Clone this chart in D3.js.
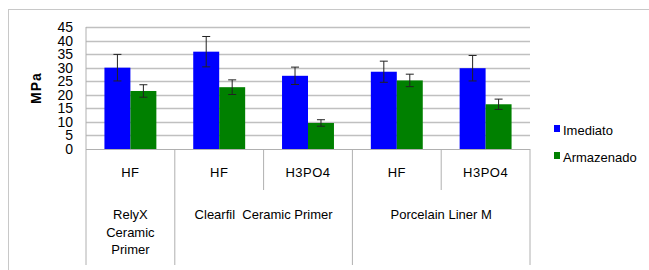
<!DOCTYPE html>
<html>
<head>
<meta charset="utf-8">
<script src="https://cdn.jsdelivr.net/npm/d3@7"></script>
<style>
  body { margin: 0; background: #fff; }
  text { font-family: "Liberation Sans", Arial, sans-serif; fill: #000; }
</style>
</head>
<body>
<svg width="649" height="270"></svg>
<script>
// data
var subLabels = ["HF", "HF", "H3PO4", "HF", "H3PO4"];
var groups = [
  { name: ["RelyX", "Ceramic", "Primer"], from: 0, to: 1 },
  { name: ["Clearfil  Ceramic Primer"], from: 1, to: 3 },
  { name: ["Porcelain Liner M"], from: 3, to: 5 }
];
var seriesNames = ["Imediato", "Armazenado"];
var colors = ["#0000ff", "#008000"];
var imediato = [30.0, 35.9, 27.0, 28.5, 29.8];
var imediatoErr = [4.9, 5.6, 3.2, 3.9, 4.7];
var armazenado = [21.4, 22.8, 9.6, 25.3, 16.5];
var armazenadoErr = [2.3, 2.7, 1.2, 2.3, 1.9];
var yTicks = [0, 5, 10, 15, 20, 25, 30, 35, 40, 45];

var svg = d3.select("svg");

// outer frame (only top and left edges visible)
svg.append("rect")
  .attr("x", 8.5).attr("y", 9.5)
  .attr("width", 700).attr("height", 300)
  .attr("fill", "none").attr("stroke", "#c8c8c8").attr("stroke-width", 1);

var pLeft = 86, pRight = 530, pTop = 27, pBottom = 149;

var y = d3.scaleLinear().domain([0, 45]).range([pBottom, pTop]);
var x = d3.scaleBand().domain(d3.range(subLabels.length)).range([pLeft, pRight]);
var xs = d3.scaleBand().domain([0, 1]).range([0, x.bandwidth()]).paddingOuter(0.71);

// gridlines
svg.selectAll("line.grid").data(yTicks.slice(1))
  .enter().append("line")
  .attr("class", "grid")
  .attr("x1", pLeft).attr("x2", pRight)
  .attr("y1", function(d){ return Math.round(y(d)) + 0.5 })
  .attr("y2", function(d){ return Math.round(y(d)) + 0.5 })
  .attr("stroke", "#c0c0c0").attr("stroke-width", 1.5);

// y tick labels (tight, like the original)
svg.selectAll("text.ytick").data(yTicks)
  .enter().append("text")
  .attr("class", "ytick")
  .attr("x", 73)
  .attr("y", function(d){ return y(d) + 5 })
  .attr("text-anchor", "end")
  .style("font-size", "14px")
  .text(function(d){ return d });

svg.append("text")
  .attr("transform", "translate(41," + ((pTop + pBottom) / 2) + ") rotate(-90)")
  .attr("text-anchor", "middle")
  .style("font-size", "14px").style("font-weight", "bold")
  .style("letter-spacing", "1px")
  .text("MPa");

// bars
var series = [
  { vals: imediato, err: imediatoErr },
  { vals: armazenado, err: armazenadoErr }
];
series.forEach(function(s, si){
  svg.selectAll("rect.s" + si).data(s.vals)
    .enter().append("rect")
    .attr("class", "s" + si)
    .attr("x", function(d, i){ return x(i) + xs(si) })
    .attr("width", xs.bandwidth())
    .attr("y", function(d){ return y(d) })
    .attr("height", function(d){ return pBottom - y(d) })
    .attr("fill", colors[si]);

  var eb = svg.selectAll("g.eb" + si).data(s.vals)
    .enter().append("g")
    .attr("stroke", "#222").attr("stroke-width", 1);
  eb.append("line")
    .attr("x1", function(d, i){ return x(i) + xs(si) + xs.bandwidth() / 2 })
    .attr("x2", function(d, i){ return x(i) + xs(si) + xs.bandwidth() / 2 })
    .attr("y1", function(d, i){ return y(d + s.err[i]) })
    .attr("y2", function(d, i){ return y(d - s.err[i]) });
  [1, -1].forEach(function(sign){
    eb.append("line")
      .attr("x1", function(d, i){ return x(i) + xs(si) + xs.bandwidth() / 2 - 4 })
      .attr("x2", function(d, i){ return x(i) + xs(si) + xs.bandwidth() / 2 + 4 })
      .attr("y1", function(d, i){ return y(d + sign * s.err[i]) })
      .attr("y2", function(d, i){ return y(d + sign * s.err[i]) });
  });
});

// axes lines
svg.append("line")
  .attr("x1", pLeft).attr("x2", pRight).attr("y1", pBottom + 0.5).attr("y2", pBottom + 0.5)
  .attr("stroke", "#b0b0b0").attr("stroke-width", 1);
svg.append("line")
  .attr("x1", pLeft).attr("x2", pLeft).attr("y1", pTop).attr("y2", 265)
  .attr("stroke", "#b0b0b0").attr("stroke-width", 1);

// category separators: full height at group edges, short between sub categories
var groupEdges = groups.map(function(g){ return g.to });
d3.range(1, subLabels.length + 1).forEach(function(i){
  var xx = i < subLabels.length ? x(i) : pRight;
  var full = groupEdges.indexOf(i) >= 0;
  svg.append("line")
    .attr("x1", xx).attr("x2", xx)
    .attr("y1", pBottom).attr("y2", full ? 265 : 190)
    .attr("stroke", "#b0b0b0").attr("stroke-width", 1);
});

// sub category labels
svg.selectAll("text.sub").data(subLabels)
  .enter().append("text")
  .attr("class", "sub")
  .attr("x", function(d, i){ return x(i) + x.bandwidth() / 2 })
  .attr("y", 177)
  .attr("text-anchor", "middle")
  .style("font-size", "13px").style("letter-spacing", "0.5px")
  .text(function(d){ return d });

// group labels
groups.forEach(function(g){
  var cx = (x(g.from) + (g.to < subLabels.length ? x(g.to) : pRight)) / 2;
  var t = svg.append("text")
    .attr("x", cx).attr("y", 219)
    .attr("text-anchor", "middle")
    .style("font-size", "13px").style("white-space", "pre");
  g.name.forEach(function(line, li){
    t.append("tspan").attr("x", cx).attr("dy", li === 0 ? 0 : 17.5).text(line);
  });
});

// legend
seriesNames.forEach(function(n, i){
  var ly = 131 + i * 27;
  svg.append("rect")
    .attr("x", 554).attr("y", ly - 6).attr("width", 6).attr("height", 7)
    .attr("fill", colors[i]);
  svg.append("text")
    .attr("x", 563).attr("y", ly + 4)
    .style("font-size", "13px")
    .text(n);
});
</script>
</body>
</html>
